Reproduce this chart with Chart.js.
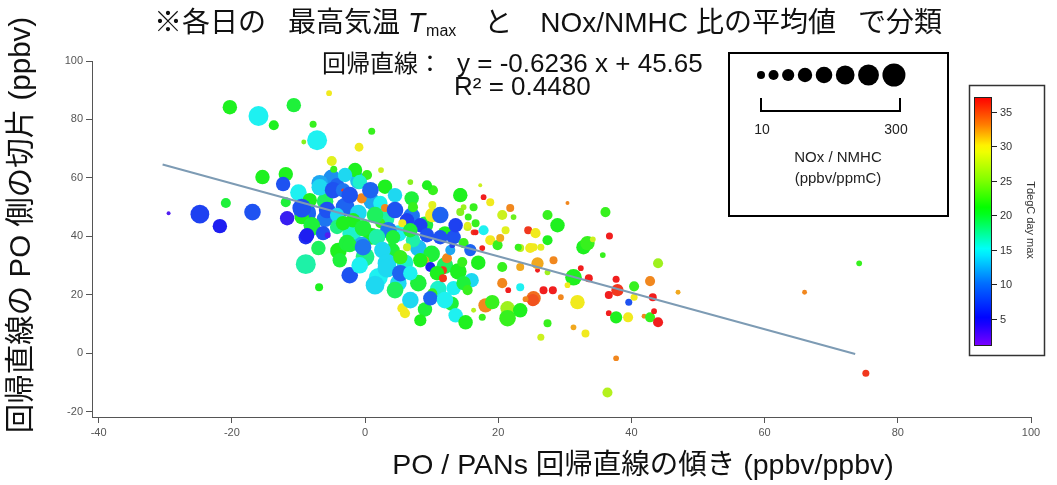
<!DOCTYPE html>
<html><head><meta charset="utf-8">
<script src="https://cdn.jsdelivr.net/npm/chart.js@4/dist/chart.umd.min.js"></script>
<style>html,body{margin:0;padding:0;background:#fff;}canvas{display:block;}</style>
</head><body>
<canvas id="c" width="1057" height="485"></canvas>
<script>
// ---- data ----
const slopeX = [-6,-3,-1,1,3,5,7,9,-2,0,2,4,6,8,10,12,11,8,5,-4,-6,-7,14,16,3,-1,-5,7,12,17,9,13,1,-10,
-29.5,-24.8,-21.8,-20.9,-20.3,-16.0,-13.7,-10.7,-7.8,-7.2,-5.4,1.0,-9.2,-0.9,-5.0,-4.7,2.4,-15.4,-11.9,-12.3,-16.9,-11.7,-11.9,-9.0,-9.5,-8.9,-7.8,-8.9,-6.9,-6.8,-4.2,
-6.8,-4.8,-3.3,-3.3,-0.5,-1.5,0.3,-0.8,-8.3,-9.5,-8.0,-5.7,-4.2,-1.8,-2.7,-6.3,-5.6,-8.7,-4.2,-0.3,-0.5,2.3,3.0,2.3,3.5,1.8,4.2,2.6,3.3,6.3,5.6,7.2,8.3,7.2,6.3,5.3,9.3,10.2,10.1,9.3,6.8,9.0,11.7,12.3,13.3,14.8,15.4,16.3,14.3,14.8,15.5,5.6,6.0,
-3.3,-2.3,-0.3,3.3,5.3,6.8,8.3,9.8,10.8,11.7,14.3,10.1,11.3,12.8,13.3,14.8,15.4,10.1,14.6,16.3,17.3,17.8,18.8,14.3,15.4,16.6,17.8,16.6,18.8,17.6,19.9,20.3,21.1,21.8,20.6,22.3,24.5,25.6,27.4,28.9,27.4,25.3,23.3,20.6,23.3,25.9,28.3,20.6,21.5,23.3,25.3,26.8,28.2,29.4,18.1,19.1,21.4,21.4,17.6,23.3,16.3,27.4,26.4,31.3,31.9,30.4,
24.8,26.4,23.0,25.9,27.4,31.3,30.4,32.4,33.6,32.8,33.4,34.2,35.7,36.1,36.7,44.0,37.7,37.9,36.6,40.4,42.8,47.0,39.6,40.4,43.2,36.6,37.7,39.5,41.9,42.8,43.4,44.0,25.2,24.1,33.1,37.7,36.4,13.1,66.0,74.2,75.2,
1.5,4.5,6.8,9.8,12.0,13.6,15.1,8.3,-2.3,-0.8,-3.8,-2.3,0.8,4.5,-3.0,4.5,6.8,1.5,11.3,13.6,15.8];
const interceptY = [52,50,48,52,46,41,47,44,41,33,26,35,31,36,34,30,22,24,24,35,46,36,28,25,57,59,60,53,41,31,15,17,40,55,
47.9,47.6,43.5,51.4,84.2,81.2,78.0,84.9,78.4,72.9,89.0,76.0,72.3,70.5,65.8,63.0,62.7,60.3,61.3,57.9,48.3,46.2,51.7,47.9,46.6,39.7,42.8,30.5,22.6,58.2,57.5,
56.8,55.8,55.8,55.8,53.0,62.7,61.0,58.6,52.4,49.7,43.8,49.0,47.3,45.5,37.7,41.1,40.4,40.4,43.2,42.8,37.0,51.4,49.7,44.5,42.1,39.7,39.7,35.3,30.8,45.5,44.5,50.0,43.8,38.7,36.3,32.9,40.4,55.8,47.3,57.5,58.6,31.8,28.4,32.5,39.7,37.7,43.2,41.4,54.8,50.0,46.6,15.4,13.7,
44.5,37.0,36.3,29.1,27.4,27.4,31.8,29.5,27.4,25.7,54.1,50.7,39.7,35.3,22.3,24.0,21.6,20.5,31.2,50.0,57.5,53.4,51.7,48.3,43.8,44.5,42.1,41.4,38.7,36.0,37.0,39.4,42.1,49.7,47.3,46.6,42.1,41.1,47.3,43.8,38.7,36.3,36.0,29.5,29.5,28.4,31.8,24.0,21.6,22.6,18.8,21.6,21.6,19.2,16.4,17.5,15.4,12.0,12.3,14.7,14.7,10.3,5.5,8.9,17.5,51.4,
36.0,36.3,36.3,30.8,27.7,26.0,23.3,29.1,25.7,36.3,37.7,39.0,33.6,48.3,40.1,30.8,25.3,21.6,19.9,22.9,24.7,20.9,17.5,19.2,19.2,13.7,12.3,12.3,12.7,12.3,14.4,10.6,18.2,18.5,6.8,-1.7,-13.4,37.0,20.9,30.8,-6.8,
23.3,21.6,18.2,18.8,18.2,13.0,10.6,11.3,26.7,30.1,31.8,54.1,55.8,54.1,61.0,49.0,42.1,47.3,47.3,43.8,35.3];
const tmaxDay = [19,9,14,12,17,15,10,20,16,18,15,20,16,13,20,19,16,20,14,21,10,19,21,14,21,13,11,20,21,21,20,20,21,15,
3,7,5,20,21,15,21,20,22,15,30,22,25,30,29,22,28,21,21,8,8,4,20,9,21,6,20,17,21,12,9,
14,8,10,36,33,21,22,16,21,8,20,8,14,21,20,8,3,5,18,20,12,15,33,22,10,17,20,14,14,7,30,22,7,17,28,22,8,22,30,21,25,32,36,33,8,22,28,36,22,26,22,30,30,
21,20,10,14,9,15,21,5,21,36,21,29,8,12,15,20,22,22,22,22,28,37,30,25,29,22,15,37,30,37,22,32,29,33,28,24,36,30,22,21,21,30,27,22,32,37,33,33,37,15,34,37,37,33,33,22,26,22,22,21,27,22,28,32,30,33,
30,29,22,32,26,21,30,37,37,21,22,28,22,22,37,26,37,36,37,22,33,32,8,30,37,37,21,30,33,22,37,37,35,33,30,33,27,7,33,22,36,
14,19,14,9,15,15,21,21,8,15,20,8,9,14,14,8,20,19,9,7,9];
const noxNmhc = [70,115,70,70,115,70,70,70,115,115,115,70,70,70,70,70,70,70,70,70,70,43,70,43,43,70,70,43,43,43,43,43,70,70,
4,115,43,16,43,150,16,43,8,150,6,8,5,12,16,8,6,43,43,43,70,43,16,230,43,43,43,150,10,70,43,
70,70,43,3,16,43,16,43,43,115,70,70,43,43,70,43,6,43,43,70,70,43,10,16,70,70,43,70,115,43,10,16,43,43,10,43,43,16,43,16,6,10,10,16,43,16,10,6,16,6,8,16,16,
43,43,70,115,70,43,43,16,43,10,43,10,43,16,43,43,16,16,16,10,4,6,10,10,8,10,16,6,16,6,16,10,10,10,16,6,10,16,16,43,16,10,10,16,10,5,10,16,6,10,43,10,10,6,43,43,43,70,8,43,5,10,8,6,43,4,
16,8,8,26,6,70,6,6,10,43,43,6,6,16,8,16,8,26,10,16,16,5,8,8,10,6,26,16,5,16,6,16,26,6,10,6,16,6,5,6,8,
115,70,70,43,70,43,43,26,70,70,43,70,70,43,43,70,43,70,70,43,26];
const xTickValues = [-40,-20,0,20,40,60,80,100];
const yTickValues = [-20,0,20,40,60,80,100];
const regSlope = [-0.6236];
const regIntercept = [45.65];
const regXRange = [-30.4, 73.6];
const legendRatios = [10,16,26,43,70,115,185,300];
const colorbarTicks = [5,10,15,20,25,30,35];
const colorbarRange = [1.2, 37.1];

// ---- helpers ----
const hueStops = [[1,270],[5,240],[10,215],[15,180],[20,128],[25,90],[30,58],[33,30],[37,0]];
function hueOf(t){
  if (t <= hueStops[0][0]) return hueStops[0][1];
  for (let i=1;i<hueStops.length;i++){
    if (t <= hueStops[i][0]){
      const [a,ha]=hueStops[i-1],[b,hb]=hueStops[i];
      return ha + (hb-ha)*(t-a)/(b-a);
    }
  }
  return 0;
}
function colorOf(t, l){ return `hsl(${hueOf(t).toFixed(1)}, 88%, ${l||53}%)`; }
function radiusOf(v){ return Math.max(1.8, 4 + 7.5*Math.log(v/10)/Math.log(30)); }

const points = slopeX.map((x,i)=>({x, y: interceptY[i], r: radiusOf(noxNmhc[i])}));
const colors = tmaxDay.map(t=>colorOf(t));
const regLine = regXRange.map(x=>({x, y: regSlope[0]*x + regIntercept[0]}));

const JP = '"Liberation Sans", "Noto Sans CJK JP", sans-serif';

const overlay = {
  id: 'overlay',
  afterDraw(chart){
    const ctx = chart.ctx;
    ctx.save();
    ctx.fillStyle = '#111';
    ctx.textBaseline = 'middle';
    // --- title ---
    const segs = [
      ['※各日の', '28px '+JP, 0, 22],
      ['最高気温', '28px '+JP, 0, 8],
      ['T', 'italic 28px "Liberation Sans"', 0, 1],
      ['max', '16px "Liberation Sans"', 8, 28],
      ['と', '28px '+JP, 0, 28],
      ['NOx/NMHC', '28px '+JP, 0, 8],
      ['比の平均値', '28px '+JP, 0, 22],
      ['で分類', '28px '+JP, 0, 0]
    ];
    let total = 0;
    segs.forEach(s=>{ ctx.font = s[1]; s.w = ctx.measureText(s[0]).width; total += s.w + s[3]; });
    let x0 = 548 - total/2;
    ctx.textAlign = 'left';
    segs.forEach(s=>{ ctx.font = s[1]; ctx.fillText(s[0], x0, 24 + s[2]); x0 += s.w + s[3]; });
    // --- regression text ---
    ctx.font = '24px '+JP;
    ctx.fillText('回帰直線：', 322, 65);
    ctx.font = '26px "Liberation Sans"';
    ctx.fillText('y = -0.6236 x + 45.65', 457, 65);
    ctx.fillText('R² = 0.4480', 454, 88);
    // --- size legend ---
    ctx.lineWidth = 2;
    ctx.strokeStyle = '#000';
    ctx.strokeRect(729, 53, 219, 163);
    let cx = 757;
    ctx.fillStyle = '#000';
    legendRatios.forEach((v,i)=>{
      const r = radiusOf(v);
      if (i>0) cx += r + 3.5; else cx += r;
      ctx.beginPath(); ctx.arc(cx, 75, r, 0, Math.PI*2); ctx.fill();
      cx += r;
    });
    ctx.beginPath();
    ctx.moveTo(761, 98); ctx.lineTo(761, 111); ctx.lineTo(900, 111); ctx.lineTo(900, 98);
    ctx.stroke();
    ctx.fillStyle = '#222';
    ctx.textAlign = 'center';
    ctx.font = '14px "Liberation Sans"';
    ctx.fillText('10', 762, 130);
    ctx.fillText('300', 896, 130);
    ctx.font = '15px "Liberation Sans"';
    ctx.fillText('NOx / NMHC', 838, 158);
    ctx.fillText('(ppbv/ppmC)', 838, 179);
    // --- colorbar ---
    ctx.lineWidth = 1.5;
    ctx.strokeStyle = '#333';
    ctx.strokeRect(969.5, 85.5, 75, 270);
    const gTop = 97, gBot = 345;
    const g = ctx.createLinearGradient(0, gBot, 0, gTop);
    for (let k=0;k<=36;k++){
      const v = colorbarRange[0] + (colorbarRange[1]-colorbarRange[0])*k/36;
      g.addColorStop(k/36, `hsl(${hueOf(v).toFixed(1)}, 100%, 50%)`);
    }
    ctx.fillStyle = g;
    ctx.fillRect(974, gTop, 17, gBot-gTop);
    ctx.lineWidth = 1;
    ctx.strokeStyle = '#222';
    ctx.strokeRect(974.5, gTop+0.5, 17, gBot-gTop);
    const yOfT = v => gBot - (v-colorbarRange[0])*(gBot-gTop)/(colorbarRange[1]-colorbarRange[0]);
    ctx.fillStyle = '#333';
    ctx.textAlign = 'left';
    ctx.font = '11px "Liberation Sans"';
    colorbarTicks.forEach(v=>{
      const y = Math.round(yOfT(v))+0.5;
      ctx.beginPath(); ctx.moveTo(991, y); ctx.lineTo(997, y); ctx.stroke();
      ctx.fillText(String(v), 1000, y);
    });
    ctx.save();
    ctx.translate(1030, 220);
    ctx.rotate(Math.PI/2);
    ctx.textAlign = 'center';
    ctx.font = '11px "Liberation Sans"';
    ctx.fillText('TdegC day max', 0, 0);
    ctx.restore();
    // --- axis titles ---
    ctx.fillStyle = '#111';
    ctx.textAlign = 'center';
    ctx.font = '28.5px '+JP;
    ctx.fillText('PO / PANs 回帰直線の傾き (ppbv/ppbv)', 643, 466);
    ctx.save();
    ctx.translate(22, 225);
    ctx.rotate(-Math.PI/2);
    ctx.font = '29.5px '+JP;
    ctx.fillText('回帰直線の PO 側の切片 (ppbv)', 0, 0);
    ctx.restore();
    ctx.restore();
  }
};

const axisCommon = {
  type: 'linear',
  border: { display: true, color: '#555', width: 1 },
  grid: { display: true, drawOnChartArea: false, drawTicks: true, tickLength: 6, color: '#555' },
  ticks: { color: '#555', font: { family: 'Liberation Sans', size: 11 }, padding: 3 }
};

new Chart(document.getElementById('c'), {
  type: 'bubble',
  data: { datasets: [
    { type: 'line', data: regLine, borderColor: '#7d9bb4', borderWidth: 2, pointRadius: 0, fill: false, order: 0 },
    { type: 'bubble', data: points, backgroundColor: colors, borderColor: colors, borderWidth: 0, hoverRadius: 0, order: 1 }
  ]},
  options: {
    responsive: false, animation: false, events: [],
    layout: { padding: { left: 0, right: 26, top: 61, bottom: 0 } },
    plugins: { legend: { display: false }, tooltip: { enabled: false }, title: { display: false } },
    scales: {
      x: Object.assign({}, axisCommon, {
        min: -41, max: 100,
        afterBuildTicks: s => { s.ticks = xTickValues.map(v=>({value:v})); },
        afterFit: s => { s.height = 68; }
      }),
      y: Object.assign({}, axisCommon, {
        min: -21.8, max: 100,
        afterBuildTicks: s => { s.ticks = yTickValues.map(v=>({value:v})); },
        afterFit: s => { s.width = 92; }
      })
    }
  },
  plugins: [overlay]
});
</script>
</body></html>
